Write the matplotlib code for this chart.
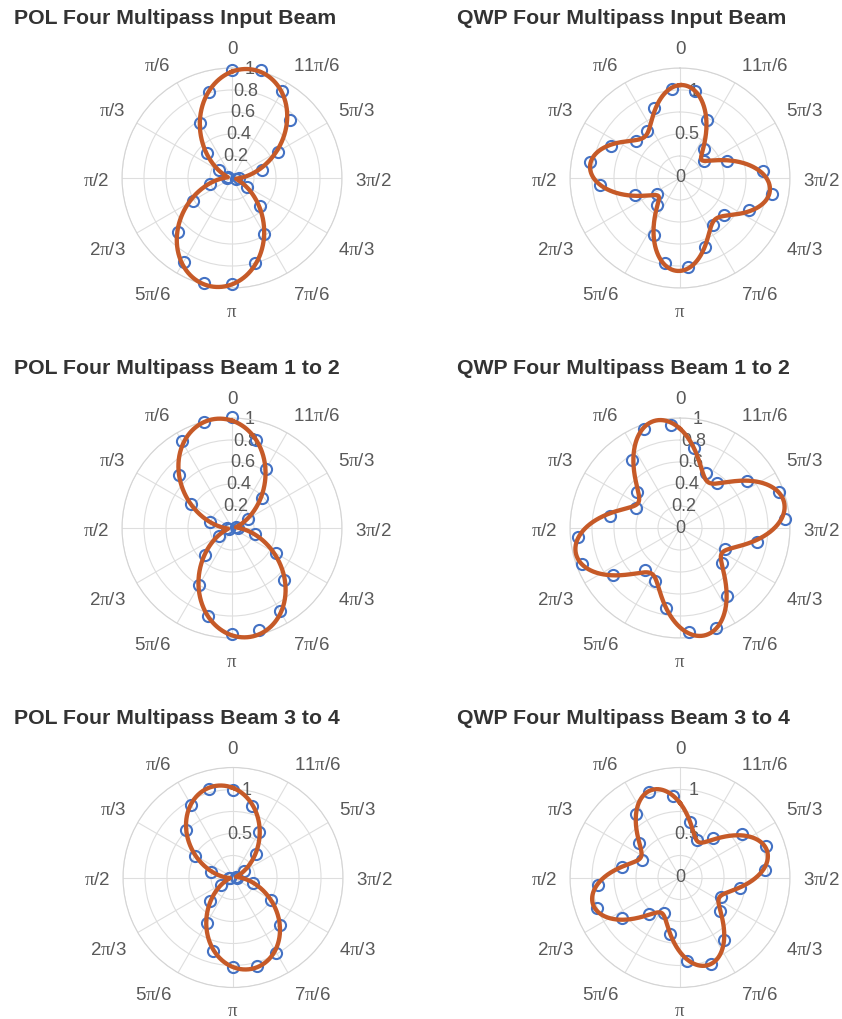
import numpy as np
import matplotlib
matplotlib.use("Agg")
import matplotlib.pyplot as plt
from matplotlib.transforms import offset_copy

plt.rcParams['font.family'] = ['Liberation Sans', 'DejaVu Sans']
plt.rcParams['mathtext.fontset'] = 'custom'
plt.rcParams['mathtext.rm'] = 'Liberation Serif'
plt.rcParams['mathtext.it'] = 'Liberation Serif:italic'

# Analyzer angles (degrees) at which the intensity was sampled
pol_angles = [0, 15, 30, 45, 60, 75, 90, 105, 120, 135, 150, 165,
              180, 195, 210, 225, 240, 255, 270, 285, 300, 315, 330, 345]
qwp_angles = [5, 20, 35, 50, 65, 80, 95, 110, 125, 140, 155, 170,
              185, 200, 215, 230, 245, 260, 275, 290, 305, 320, 335, 350]

# Normalised measured intensities
pol_input = [0.98, 0.81, 0.58, 0.32, 0.14, 0.04, 0.05, 0.21, 0.41, 0.69, 0.88, 0.985,
             0.96, 0.80, 0.59, 0.36, 0.16, 0.04, 0.06, 0.28, 0.48, 0.74, 0.915, 1.02]
pol_beam12 = [1.01, 1.00, 0.91, 0.68, 0.43, 0.21, 0.05, 0.03, 0.14, 0.35, 0.60, 0.83,
              0.96, 0.96, 0.87, 0.67, 0.46, 0.22, 0.05, 0.04, 0.165, 0.39, 0.62, 0.83]
pol_beam34 = [0.99, 1.045, 0.95, 0.76, 0.50, 0.26, 0.04, 0.04, 0.16, 0.37, 0.60, 0.87,
              1.02, 1.04, 0.985, 0.76, 0.50, 0.24, 0.04, 0.03, 0.14, 0.37, 0.60, 0.84]
qwp_input = [1.02, 0.85, 0.65, 0.655, 0.86, 1.04, 0.91, 0.55, 0.32, 0.405, 0.71, 0.98,
             1.01, 0.84, 0.65, 0.65, 0.87, 1.056, 0.95, 0.57, 0.335, 0.43, 0.725, 1.00]
qwp_beam12 = [0.94, 0.96, 0.755, 0.51, 0.44, 0.65, 0.93, 0.945, 0.74, 0.50, 0.53, 0.74,
              0.95, 0.97, 0.75, 0.50, 0.45, 0.71, 0.96, 0.96, 0.74, 0.53, 0.55, 0.74]
qwp_beam34 = [0.935, 1.03, 0.875, 0.61, 0.48, 0.67, 0.93, 1.005, 0.81, 0.54, 0.44, 0.65,
              0.95, 1.045, 0.87, 0.60, 0.52, 0.69, 0.97, 1.04, 0.86, 0.58, 0.47, 0.64]

titles = ["POL Four Multipass Input Beam", "QWP Four Multipass Input Beam",
          "POL Four Multipass Beam 1 to 2", "QWP Four Multipass Beam 1 to 2",
          "POL Four Multipass Beam 3 to 4", "QWP Four Multipass Beam 3 to 4"]

PI = r'$\mathrm{\pi}$'
theta_ticks = [0, 30, 60, 90, 120, 150, 180, 210, 240, 270, 300, 330]
theta_labels = ['0', PI + '/6', PI + '/3', PI + '/2', '2' + PI + '/3', '5' + PI + '/6',
                PI, '7' + PI + '/6', '4' + PI + '/3', '3' + PI + '/2', '5' + PI + '/3',
                '11' + PI + '/6']

fine_rings = [0.2, 0.4, 0.6, 0.8, 1.0]
fine_labels = ['0.2', '0.4', '0.6', '0.8', '1']
coarse_rings = [0.25, 0.5, 0.75, 1.0, 1.25]
coarse_label_vals = [0.0, 0.5, 1.0]
coarse_labels = ['0', '0.5', '1']

POINT_COLOR = '#4472C4'
FIT_COLOR = '#C65A28'
TEXT_COLOR = '#595959'
GRID_COLOR = '#dedede'


def harmonic_fit(theta_deg, r, orders, n=1441):
    """Least-squares Fourier fit of r(theta) using the given harmonic orders."""
    t = np.deg2rad(np.asarray(theta_deg, float))
    r = np.asarray(r, float)

    def design(x):
        cols = [np.ones_like(x)]
        for k in orders:
            cols += [np.cos(k * x), np.sin(k * x)]
        return np.column_stack(cols)

    coef, *_ = np.linalg.lstsq(design(t), r, rcond=None)
    tt = np.linspace(0, 2 * np.pi, n)
    return tt, np.clip(design(tt) @ coef, 0, None)


def angle_labels(ax, rmax, gap=1.115):
    """Place the angular tick labels just outside the rim, anchored by their near edge."""
    trans = offset_copy(ax.transData, fig=ax.figure, x=0, y=-3, units='dots')
    for deg, lab in zip(theta_ticks, theta_labels):
        t = np.deg2rad(deg)
        x, y = -np.sin(t), np.cos(t)
        ha = 'left' if x > 0.3 else ('right' if x < -0.3 else 'center')
        va = 'bottom' if y > 0.3 else ('top' if y < -0.3 else 'center')
        ax.text(t, rmax * gap, lab, ha=ha, va=va, fontsize=13.5, color=TEXT_COLOR,
                transform=trans, clip_on=False)


panels = [
    (titles[0], pol_angles, pol_input, (2,), 1.0, fine_rings, fine_rings, fine_labels),
    (titles[1], qwp_angles, qwp_input, (2, 4), 1.25, coarse_rings, coarse_label_vals, coarse_labels),
    (titles[2], pol_angles, pol_beam12, (2,), 1.0, fine_rings, fine_rings, fine_labels),
    (titles[3], qwp_angles, qwp_beam12, (2, 4), 1.0, fine_rings, [0.0] + fine_rings, ['0'] + fine_labels),
    (titles[4], pol_angles, pol_beam34, (2,), 1.25, coarse_rings, coarse_label_vals[1:], coarse_labels[1:]),
    (titles[5], qwp_angles, qwp_beam34, (2, 4), 1.25, coarse_rings, coarse_label_vals, coarse_labels),
]

W, H = 842, 1019
fig = plt.figure(figsize=(W / 100, H / 100), dpi=100)

centers = [(232, 178), (680, 178), (232, 528), (680, 528), (233, 877.5), (680, 877.5)]
title_x = [13.5, 457.3]
title_base = [24, 374.3, 724.3]
R = 110

for i, (title, angles, values, orders, rmax, rings, lab_vals, labs) in enumerate(panels):
    cx, cy = centers[i]
    ax = fig.add_axes([(cx - R) / W, 1 - (cy + R) / H, 2 * R / W, 2 * R / H],
                      projection='polar')
    ax.set_theta_zero_location('N')
    ax.set_theta_direction(1)
    ax.set_axisbelow(True)
    ax.set_rlim(0, rmax)
    ax.set_rgrids(rings, labels=[''] * len(rings))
    ax.set_thetagrids(theta_ticks, labels=[''] * len(theta_ticks))
    ax.grid(True, color=GRID_COLOR, lw=0.8)
    ax.spines['polar'].set_color('#d4d4d4')
    ax.spines['polar'].set_linewidth(0.8)
    ax.set_rlim(0, rmax)

    angle_labels(ax, rmax)
    for v, lab in zip(lab_vals, labs):
        ax.text(np.deg2rad(-9), v, lab, ha='center', va='center', fontsize=13,
                color=TEXT_COLOR, zorder=1)

    ax.plot(np.deg2rad(angles), values, ls='none', marker='o', ms=8, mfc='none',
            mec=POINT_COLOR, mew=1.5, clip_on=False, zorder=3)
    tt, fit = harmonic_fit(angles, values, orders)
    ax.plot(tt, fit, color=FIT_COLOR, lw=3.1, clip_on=False, zorder=4)

    col = i % 2
    row = i // 2
    fig.text(title_x[col] / W, 1 - title_base[row] / H, title, ha='left', va='baseline',
             fontsize=15.3, fontweight='bold', color='#333333')

fig.savefig('out.png', dpi=100, facecolor='white')
